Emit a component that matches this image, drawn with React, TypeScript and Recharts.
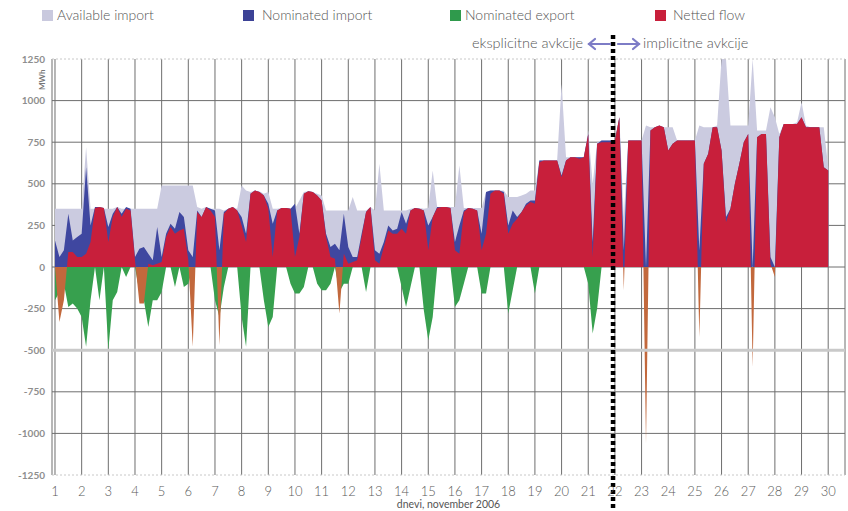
import React from 'react';
import { ComposedChart, Area, XAxis, YAxis, CartesianGrid, ReferenceLine } from 'recharts';

// ---- Data (6 samples per day, 4-hour steps; day 1 00:00 .. day 30 00:00) ----
const dayLabels = [1, 2, 3, 4, 5, 6, 7, 8, 9, 10, 11, 12, 13, 14, 15, 16, 17, 18, 19, 20, 21, 22, 23, 24, 25, 26, 27, 28, 29, 30];
const yTicks = [1250, 1000, 750, 500, 250, 0, -250, -500, -750, -1000, -1250];
const SAMPLES_PER_DAY = 6;
const auctionSwitchDay = 20.93;

const availableImport = [
  350, 350, 350, 350, 350, 350,
  350, 720, 350, 350, 350, 350,
  350, 350, 360, 350, 350, 350,
  350, 350, 350, 350, 350, 350,
  490, 490, 490, 490, 490, 490,
  490, 490, 360, 350, 360, 350,
  350, 350, 340, 350, 360, 350,
  490, 460, 450, 460, 455, 440,
  450, 350, 350, 355, 355, 350,
  350, 400, 450, 455, 450, 440,
  430, 340, 340, 340, 340, 340,
  340, 420, 340, 340, 340, 360,
  340, 620, 340, 340, 340, 340,
  340, 340, 350, 355, 355, 350,
  355, 580, 360, 360, 360, 360,
  360, 610, 355, 355, 355, 355,
  355, 450, 460, 460, 460, 460,
  420, 420, 420, 430, 440, 460,
  460, 640, 640, 640, 640, 640,
  1100, 660, 660, 660, 660, 660,
  820, 500, 750, 760, 760, 760,
  760, 900, 300, 760, 760, 760,
  760, 850, 840, 840, 840, 840,
  840, 840, 760, 760, 760, 760,
  760, 850, 840, 840, 840, 850,
  1250, 1250, 850, 850, 850, 850,
  850, 1250, 820, 820, 820, 960,
  900, 800, 860, 860, 860, 870,
  990, 850, 840, 840, 840, 840,
  600,
];

const nominatedImport = [
  160, 60, 100, 320, 160, 180,
  200, 600, 250, 360, 360, 355,
  240, 320, 360, 320, 360, 350,
  60, 110, 120, 80, 40, 240,
  60, 200, 260, 230, 330, 300,
  100, 60, 340, 300, 360, 350,
  340, 100, 330, 350, 360, 340,
  300, 200, 440, 460, 450, 430,
  380, 260, 340, 355, 355, 350,
  380, 200, 440, 455, 450, 430,
  400, 200, 120, 140, 100, 320,
  120, 60, 60, 200, 330, 360,
  100, 80, 150, 250, 220, 230,
  330, 260, 340, 355, 350, 340,
  250, 300, 360, 360, 360, 355,
  150, 250, 340, 355, 350, 340,
  200, 450, 460, 460, 460, 450,
  250, 340, 300, 330, 380, 400,
  400, 640, 640, 640, 640, 640,
  550, 640, 660, 660, 660, 660,
  800, 150, 740, 760, 760, 760,
  760, 900, 100, 760, 760, 760,
  760, 0, 820, 840, 850, 840,
  700, 740, 760, 760, 760, 760,
  760, 100, 620, 680, 840, 840,
  700, 300, 350, 500, 620, 750,
  800, 0, 780, 800, 800, 60,
  0, 780, 860, 860, 860, 860,
  900, 840, 840, 840, 840, 600,
  580,
];

const nominatedExport = [
  -200, -150, -100, -240, -220, -250,
  -300, -480, -200, 0, -200, 0,
  -500, -200, -150, 0, -60, 0,
  0, -150, -200, -360, -200, -200,
  -150, 0, 0, -120, 0, -120,
  -100, 0, 0, 0, 0, 0,
  -200, -300, -120, 0, 0, 0,
  -300, -480, 0, 0, 0, -200,
  -360, -300, 0, 0, 0, -100,
  -160, -160, -120, 0, 0, -100,
  -140, -140, -100, 0, -150, -100,
  -100, 0, 0, 0, -150, 0,
  0, 0, 0, 0, 0, 0,
  -120, -240, -120, 0, 0, -260,
  -440, -300, 0, 0, 0, 0,
  -240, -200, -100, 0, 0, 0,
  -160, -160, 0, 0, 0, 0,
  -280, -140, 0, 0, 0, 0,
  -160, 0, 0, 0, 0, 0,
  0, 0, 0, 0, 0, 0,
  -100, -400, -250, 0, 0, 0,
  0, 0, 0, 0, 0, 0,
  0, 0, 0, 0, 0, 0,
  0, 0, 0, 0, 0, 0,
  0, 0, 0, 0, 0, 0,
  0, 0, 0, 0, 0, 0,
  0, 0, 0, 0, 0, 0,
  0, 0, 0, 0, 0, 0,
  0, 0, 0, 0, 0, 0,
  0,
];

const nettedFlow = [
  0, -330, -200, 90, 90, 60,
  60, 80, 150, 355, 360, 355,
  150, 300, 360, 300, 350, 340,
  40, -220, -220, 20, 10, 20,
  30, 180, 240, 200, 220, 230,
  40, -480, 330, 300, 360, 340,
  300, -470, 320, 350, 360, 340,
  250, 150, 440, 460, 450, 430,
  350, 60, 340, 355, 355, 350,
  60, 180, 440, 455, 450, 430,
  400, 180, 60, 50, -280, 80,
  20, 30, 40, 180, 330, 360,
  40, 20, 120, 220, 200, 200,
  230, 200, 340, 355, 350, 340,
  100, 300, 355, 360, 360, 355,
  100, 80, 330, 355, 350, 340,
  100, 200, 440, 460, 460, 440,
  200, 260, 290, 330, 370, 390,
  380, 630, 640, 640, 640, 640,
  540, 640, 660, 660, 650, 660,
  800, 60, 740, 750, 750, 750,
  760, 900, -140, 760, 760, 760,
  760, -1060, 820, 840, 850, 840,
  700, 740, 760, 760, 760, 760,
  760, -420, 620, 680, 840, 840,
  700, 270, 350, 500, 620, 750,
  800, -600, 780, 800, 800, 20,
  -60, 780, 860, 860, 860, 860,
  900, 840, 840, 840, 840, 600,
  580,
];

const legendItems = [
  { name: 'Available import', color: '#c9c9de', square: 42, text: 57 },
  { name: 'Nominated import', color: '#3c4296', square: 243, text: 262 },
  { name: 'Nominated export', color: '#2f9a4c', square: 450, text: 465 },
  { name: 'Netted flow', color: '#c81f3b', square: 655, text: 673 },
];

const data = availableImport.map((v, i) => ({
  t: i / SAMPLES_PER_DAY,
  avail: v,
  nomImp: nominatedImport[i],
  nomExp: nominatedExport[i],
  net: nettedFlow[i],
}));

const netMax = Math.max(...nettedFlow);
const netMin = Math.min(...nettedFlow);
const zeroOffset = netMax / (netMax - netMin);

const font = "Lato, 'Open Sans', 'DejaVu Sans', sans-serif";

const DottedDivider = (props: any) => {
  const { x1, y1, x2, y2 } = props;
  const top = Math.min(y1, y2) - 24;
  const bottom = Math.max(y1, y2) + 40;
  return (
    <line x1={x1} x2={x2} y1={top} y2={bottom} stroke="#000" strokeWidth={4.5} strokeDasharray="4 3" />
  );
};

const Arrow = ({ dir }: { dir: 'left' | 'right' }) => (
  <svg width={26} height={14} style={{ display: 'block' }}>
    {dir === 'left' ? (
      <g stroke="#7d7cc6" strokeWidth={2.2} fill="none" strokeLinecap="round">
        <line x1={3} y1={7} x2={24} y2={7} />
        <polyline points="9,2 3,7 9,12" />
      </g>
    ) : (
      <g stroke="#7d7cc6" strokeWidth={2.2} fill="none" strokeLinecap="round">
        <line x1={2} y1={7} x2={23} y2={7} />
        <polyline points="17,2 23,7 17,12" />
      </g>
    )}
  </svg>
);

export default function App() {
  const textStyle: React.CSSProperties = {
    position: 'absolute',
    fontSize: 14,
    color: '#555',
    fontWeight: 300,
    whiteSpace: 'nowrap',
    lineHeight: '16px',
  };
  return (
    <div style={{ position: 'absolute', left: 0, top: 0, width: 848, height: 511, background: '#fff', fontFamily: font }}>
      <ComposedChart width={848} height={511} data={data} margin={{ top: 59, right: 3, bottom: 0, left: 0 }}>
        <defs>
          <linearGradient id="netFill" x1="0" y1="0" x2="0" y2="1">
            <stop offset={zeroOffset} stopColor="#c81f3b" />
            <stop offset={zeroOffset} stopColor="#c2683c" />
          </linearGradient>
        </defs>
        <CartesianGrid
          stroke="#6e6e6e"
          strokeWidth={1}
          horizontalValues={[1000, 750, 500, 250, 0, -250, -750, -1000]}
        />
        <ReferenceLine y={1250} stroke="#c8c8c8" strokeDasharray="2 2" />
        <ReferenceLine y={-1250} stroke="#c8c8c8" strokeDasharray="2 2" />
        <ReferenceLine y={-500} stroke="#c9c9c9" strokeWidth={3} />
        <XAxis
          type="number"
          dataKey="t"
          domain={[-0.1125, 29.63]}
          allowDataOverflow
          ticks={dayLabels.map((_, i) => i)}
          interval={0}
          tickFormatter={(v: number) => String(dayLabels[v])}
          axisLine={false}
          tickLine={false}
          tickSize={0}
          tickMargin={12}
          height={36}
          tick={{ fontSize: 13, fill: '#5a5a5a', fontFamily: font, fontWeight: 300 }}
          label={{ value: 'dnevi, november 2006', position: 'insideBottom', offset: 3, fontSize: 10.5, fill: '#555', fontFamily: font }}
        />
        <YAxis
          type="number"
          domain={[-1250, 1250]}
          ticks={yTicks}
          interval={0}
          width={52}
          axisLine={false}
          tickLine={false}
          tickSize={0}
          tickMargin={7}
          tick={{ fontSize: 10, fill: '#8e8e8e', fontFamily: font, fontWeight: 700 }}
        />
        <Area dataKey="avail" type="linear" baseValue={0} stroke="none" fill="#cbcbe0" fillOpacity={1} isAnimationActive={false} dot={false} activeDot={false} />
        <Area dataKey="nomImp" type="linear" baseValue={0} stroke="none" fill="#3f47a0" fillOpacity={1} isAnimationActive={false} dot={false} activeDot={false} />
        <Area dataKey="nomExp" type="linear" baseValue={0} stroke="none" fill="#37a04e" fillOpacity={1} isAnimationActive={false} dot={false} activeDot={false} />
        <Area dataKey="net" type="linear" baseValue={0} stroke="none" fill="url(#netFill)" fillOpacity={1} isAnimationActive={false} dot={false} activeDot={false} />
        <ReferenceLine x={auctionSwitchDay} shape={DottedDivider} />
      </ComposedChart>

      {legendItems.map((it) => (
        <React.Fragment key={it.name}>
          <div style={{ position: 'absolute', left: it.square, top: 10, width: 11, height: 11, background: it.color }} />
          <div style={{ ...textStyle, left: it.text, top: 7 }}>{it.name}</div>
        </React.Fragment>
      ))}
      <div style={{ ...textStyle, fontSize: 14.5, right: 848 - 583, top: 35 }}>eksplicitne avkcije</div>
      <div style={{ position: 'absolute', left: 586, top: 37 }}><Arrow dir="left" /></div>
      <div style={{ position: 'absolute', left: 616, top: 37 }}><Arrow dir="right" /></div>
      <div style={{ ...textStyle, fontSize: 14.5, left: 643, top: 35 }}>implicitne avkcije</div>
      <div
        style={{
          position: 'absolute',
          left: 38,
          top: 90,
          fontSize: 8,
          fontWeight: 700,
          color: '#777',
          transform: 'rotate(-90deg)',
          transformOrigin: 'left top',
          whiteSpace: 'nowrap',
          lineHeight: '9px',
        }}
      >
        MWh
      </div>
    </div>
  );
}
